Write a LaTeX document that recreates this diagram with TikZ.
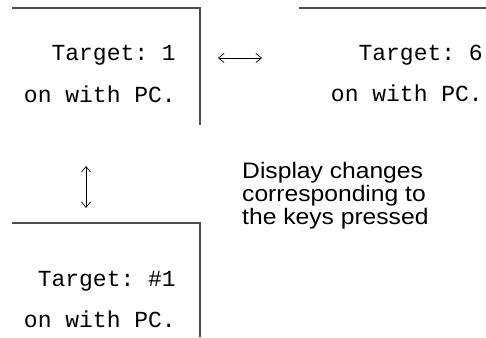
\documentclass[tikz,border=0pt]{standalone}
\usepackage{fontspec}
\setmainfont{Liberation Sans}
\setmonofont{Liberation Mono}
\usetikzlibrary{arrows.meta,positioning}

\begin{document}
\begin{tikzpicture}[x=1pt,y=-1pt,>={Straight Barb[length=5.5pt,width=9pt]},
 lcd/.style={font=\fontsize{23}{26}\selectfont\ttfamily,inner sep=0pt,anchor=base east},
 frame/.style={line width=1.3pt,draw=black!70},
 e/.style={<->,line width=0.7pt},
 note/.style={font=\fontsize{22.4}{23}\selectfont,align=left,inner sep=0pt,anchor=base west,xscale=1.1}]
\useasboundingbox (0,0) rectangle (486,337);
% display frames
\draw[frame] (12,8) -- (200,8) -- (200,125);
\draw[frame] (299,8) -- (486,8);
\draw[frame] (12,223) -- (200,223) -- (200,337);
% display texts
\node[lcd] (t1) at (176,60) {Target: 1};
\node[lcd] (w1) at (176,102) {on with PC.};
\node[lcd] (t6) at (483,60) {Target: 6};
\node[lcd] (w6) at (483,101) {on with PC.};
\node[lcd] (t3) at (176,286) {Target: \#1};
\node[lcd] (w3) at (176,327) {on with PC.};
% key arrows
\coordinate (hl) at (218,58);
\coordinate (hr) at (262,58);
\coordinate (vt) at (86,166);
\coordinate (vb) at (86,208);
\draw[e] (hl) -- (hr);
\draw[e] (vt) -- (vb);
\node[note] (msg) at (242,224) {Display changes\\corresponding to\\the keys pressed};
\end{tikzpicture}
\end{document}
